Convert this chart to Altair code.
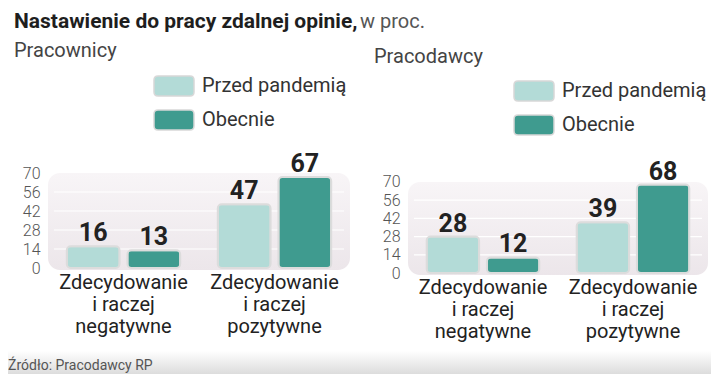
import altair as alt
import pandas as pd

# ---- data ----
categories = ["Zdecydowanie i raczej negatywne", "Zdecydowanie i raczej pozytywne"]
series = ["Przed pandemią", "Obecnie"]
pracownicy_przed = [16, 47]
pracownicy_obecnie = [13, 67]
pracodawcy_przed = [28, 39]
pracodawcy_obecnie = [12, 68]
y_ticks = [0, 14, 28, 42, 56, 70]
grid_values = [14, 28, 42, 56]

title_bold = "Nastawienie do pracy zdalnej opinie,"
title_rest = "w proc."
panel_titles = ["Pracownicy", "Pracodawcy"]
source_text = "Źródło: Pracodawcy RP"

LIGHT = "#b3dbd7"
DARK = "#3f9b8f"
FONT = "Roboto"

legend_path = ("M-0.8,-0.5 H0.8 Q1,-0.5 1,-0.3 V0.3 Q1,0.5 0.8,0.5 "
               "H-0.8 Q-1,0.5 -1,0.3 V-0.3 Q-1,-0.5 -0.8,-0.5 Z")

bg_gradient = alt.Gradient(
    gradient="linear",
    stops=[alt.GradientStop(color="#f8f5f7", offset=0),
           alt.GradientStop(color="#ece6ea", offset=1)],
    x1=0, x2=0, y1=0, y2=1,
)
band_gradient = alt.Gradient(
    gradient="linear",
    stops=[alt.GradientStop(color="#ffffff", offset=0),
           alt.GradientStop(color="#dcdcdc", offset=1)],
    x1=0, x2=0, y1=0, y2=1,
)


def one_row(**kw):
    return pd.DataFrame({k: [v] for k, v in kw.items()})


def panel(przed, obecnie, width, height, ymax, legend_y, header_layers):
    df = pd.DataFrame({
        "kategoria": categories * 2,
        "okres": [series[0]] * 2 + [series[1]] * 2,
        "wartosc": przed + obecnie,
    })
    yscale = alt.Scale(domain=[0, ymax], nice=False, zero=True)
    yaxis = alt.Axis(values=y_ticks, domain=False, ticks=False, grid=False,
                     labelFont=FONT, labelFontSize=16, labelFontWeight=300,
                     labelColor="#555555", labelPadding=8, title=None)
    x = alt.X("kategoria:N", sort=categories,
              scale=alt.Scale(paddingInner=0, paddingOuter=0),
              axis=alt.Axis(domain=False, ticks=False, grid=False, title=None,
                            labelAngle=0, labelFont=FONT, labelFontSize=20,
                            labelColor="#222222", labelPadding=4,
                            labelLineHeight=22,
                            labelExpr="split(replace(datum.label, ' i raczej ', '|i raczej|'), '|')"))
    xo = alt.XOffset("okres:N", sort=series,
                     scale=alt.Scale(paddingInner=0.13, paddingOuter=0.31))
    color = alt.Color("okres:N", sort=series,
                      scale=alt.Scale(domain=series, range=[LIGHT, DARK]),
                      legend=alt.Legend(orient="none", legendX=105, legendY=legend_y,
                                        title=None, direction="vertical",
                                        symbolType=legend_path, symbolSize=1600,
                                        symbolOpacity=1, symbolStrokeColor="#d8d8d8",
                                        symbolStrokeWidth=1.5, labelFont=FONT,
                                        labelFontSize=20, labelColor="#333333",
                                        labelOffset=7, rowPadding=-7, padding=0))

    bg = alt.Chart(one_row(hi=70, lo=-1.5)).mark_rect(
        cornerRadius=12, fill=bg_gradient
    ).encode(
        x=alt.value(0), x2=alt.value(width),
        y=alt.Y("hi:Q", scale=yscale, axis=yaxis), y2="lo:Q",
    )
    grid = alt.Chart(pd.DataFrame({"v": grid_values})).mark_rule(
        color="#ffffff", strokeWidth=1.2
    ).encode(
        y=alt.Y("v:Q", scale=yscale, axis=yaxis),
        x=alt.value(6), x2=alt.value(width - 6),
    )
    bars = alt.Chart(df).mark_bar(
        cornerRadius=4, stroke="#dcdcdc", strokeWidth=2, opacity=1
    ).encode(
        x=x, xOffset=xo,
        y=alt.Y("wartosc:Q", scale=yscale, axis=yaxis),
        color=color,
    )
    labels = alt.Chart(df).mark_text(
        baseline="alphabetic", dy=-5, font=FONT, fontSize=25,
        fontWeight="bold", color="#222222"
    ).encode(
        x=x, xOffset=xo,
        y=alt.Y("wartosc:Q", scale=yscale, axis=yaxis),
        text="wartosc:Q",
    )
    return alt.layer(*header_layers, bg, grid, bars, labels).properties(
        width=width, height=height
    )


# header / footer annotations (left panel, coordinates relative to its plot area)
left_header = [
    alt.Chart(one_row(t=0)).mark_rect(fill=band_gradient).encode(
        x=alt.value(-40), x2=alt.value(663), y=alt.value(178), y2=alt.value(201)),
    alt.Chart(one_row(t=source_text)).mark_text(
        align="left", baseline="alphabetic", font=FONT, fontSize=14, color="#555555"
    ).encode(x=alt.value(-40), y=alt.value(197), text="t:N"),
    alt.Chart(one_row(t=title_bold)).mark_text(
        align="left", baseline="alphabetic", font=FONT, fontSize=21,
        fontWeight="bold", color="#1e1e1e"
    ).encode(x=alt.value(-34), y=alt.value(-145), text="t:N"),
    alt.Chart(one_row(t=title_rest)).mark_text(
        align="left", baseline="alphabetic", font=FONT, fontSize=20, color="#555555"
    ).encode(x=alt.value(312), y=alt.value(-145), text="t:N"),
    alt.Chart(one_row(t=panel_titles[0])).mark_text(
        align="left", baseline="alphabetic", font=FONT, fontSize=20, color="#444444"
    ).encode(x=alt.value(-34), y=alt.value(-116), text="t:N"),
]
right_header = [
    alt.Chart(one_row(t=panel_titles[1])).mark_text(
        align="left", baseline="alphabetic", font=FONT, fontSize=20, color="#444444"
    ).encode(x=alt.value(-34), y=alt.value(-110), text="t:N"),
]

left = panel(pracownicy_przed, pracownicy_obecnie, 302, 95, 70, -108, left_header)
right = panel(pracodawcy_przed, pracodawcy_obecnie, 300, 100, 76.92, -103, right_header)

chart = alt.hconcat(left, right, spacing=58, bounds="flush").resolve_scale(
    x="independent", y="independent", color="independent", xOffset="independent"
).resolve_legend(color="independent").properties(
    padding={"left": 0, "top": 3, "right": 0, "bottom": 0}
).configure_view(stroke=None)

chart.save("out.html", embed_options={"renderer": "svg", "actions": False})
